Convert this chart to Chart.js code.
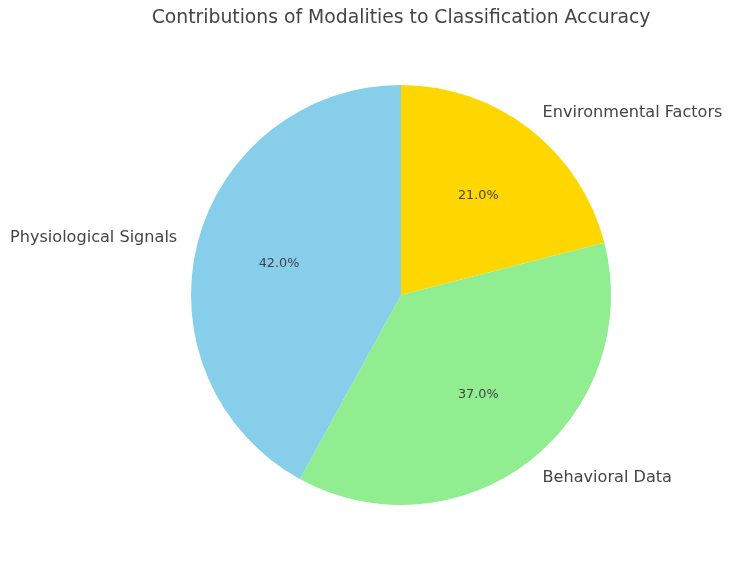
<!DOCTYPE html>
<html>
<head>
<meta charset="utf-8">
<script src="https://cdn.jsdelivr.net/npm/chart.js@4/dist/chart.umd.min.js"></script>
<style>
  html, body { margin: 0; padding: 0; background: #fff; }
  #wrap { width: 732px; height: 568px; position: relative; }
</style>
</head>
<body>
<div id="wrap"><canvas id="pieChart" width="732" height="568"></canvas></div>
<script>
// drawn clockwise from the top, so listed in reverse of the matplotlib order
const labels = ["Environmental Factors", "Behavioral Data", "Physiological Signals"];
const shares = [21, 37, 42];
const colors = ["#FFD700", "#90EE90", "#87CEEB"];
const chartTitle = "Contributions of Modalities to Classification Accuracy";

const textColor = "#444444";
const fontFamily = "'DejaVu Sans', sans-serif";

// labels outside the pie and percentages inside, matplotlib style
const pieLabels = {
  id: "pieLabels",
  afterDatasetsDraw(chart) {
    const ctx = chart.ctx;
    const meta = chart.getDatasetMeta(0);
    const total = shares.reduce((a, b) => a + b, 0);
    ctx.save();
    ctx.fillStyle = textColor;
    ctx.textBaseline = "middle";
    meta.data.forEach((arc, i) => {
      const mid = (arc.startAngle + arc.endAngle) / 2;
      const r = arc.outerRadius;
      const cos = Math.cos(mid);
      const sin = Math.sin(mid);

      ctx.font = "16.1px " + fontFamily;
      ctx.textAlign = cos >= 0 ? "left" : "right";
      ctx.fillText(labels[i], arc.x + cos * r * 1.1, arc.y + sin * r * 1.1);

      ctx.font = "12.8px " + fontFamily;
      ctx.textAlign = "center";
      const pct = (shares[i] / total * 100).toFixed(1) + "%";
      ctx.fillText(pct, arc.x + cos * r * 0.6, arc.y + sin * r * 0.6);
    });

    // title
    ctx.font = "18.8px " + fontFamily;
    ctx.textAlign = "center";
    ctx.fillText(chartTitle, meta.data[0].x, 18.5);
    ctx.restore();
  }
};

new Chart(document.getElementById("pieChart").getContext("2d"), {
  type: "pie",
  data: {
    labels: labels,
    datasets: [
      {
        data: shares,
        backgroundColor: colors,
        borderWidth: 0,
        hoverOffset: 0,
        offset: 0,
      },
    ],
  },
  options: {
    responsive: false,
    animation: false,
    events: [],
    layout: {
      padding: { left: 191, right: 121, top: 85, bottom: 63 },
    },
    plugins: {
      legend: { display: false },
      tooltip: { enabled: false },
      title: { display: false },
    },
  },
  plugins: [pieLabels],
});
</script>
</body>
</html>
